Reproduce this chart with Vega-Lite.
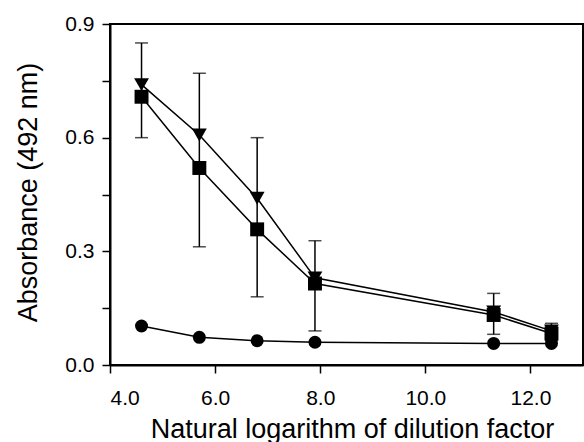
{
  "$schema": "https://vega.github.io/schema/vega-lite/v6.json",
  "width": 473,
  "height": 341,
  "autosize": {"type": "none"},
  "padding": {"left": 110, "top": 24, "right": 1, "bottom": 77},
  "background": "white",
  "config": {
    "view": {"stroke": "black", "strokeWidth": 2},
    "font": "Liberation Sans",
    "axis": {
      "domainColor": "black", "domainWidth": 2, "tickColor": "black", "tickWidth": 1.5, "tickSize": 8,
      "labelFont": "Liberation Sans", "labelFontSize": 21, "labelColor": "black", "labelPadding": 8,
      "titleFont": "Liberation Sans", "titleFontSize": 27, "titleFontWeight": "normal", "titleColor": "black",
      "grid": false
    }
  },
  "datasets": {
    "points": [
      {"lnd": 4.6, "series": "T", "abs": 0.74},
      {"lnd": 5.7, "series": "T", "abs": 0.607},
      {"lnd": 6.8, "series": "T", "abs": 0.44},
      {"lnd": 7.9, "series": "T", "abs": 0.23},
      {"lnd": 11.3, "series": "T", "abs": 0.14},
      {"lnd": 12.4, "series": "T", "abs": 0.09},
      {"lnd": 4.6, "series": "S", "abs": 0.708},
      {"lnd": 5.7, "series": "S", "abs": 0.52},
      {"lnd": 6.8, "series": "S", "abs": 0.358},
      {"lnd": 7.9, "series": "S", "abs": 0.215},
      {"lnd": 11.3, "series": "S", "abs": 0.132},
      {"lnd": 12.4, "series": "S", "abs": 0.083},
      {"lnd": 4.6, "series": "C", "abs": 0.103},
      {"lnd": 5.7, "series": "C", "abs": 0.073},
      {"lnd": 6.8, "series": "C", "abs": 0.064},
      {"lnd": 7.9, "series": "C", "abs": 0.06},
      {"lnd": 11.3, "series": "C", "abs": 0.057},
      {"lnd": 12.4, "series": "C", "abs": 0.057}
    ],
    "errors": [
      {"lnd": 4.6, "lo": 0.6, "hi": 0.85},
      {"lnd": 5.7, "lo": 0.312, "hi": 0.77},
      {"lnd": 6.8, "lo": 0.18, "hi": 0.6},
      {"lnd": 7.9, "lo": 0.09, "hi": 0.328},
      {"lnd": 11.3, "lo": 0.081, "hi": 0.189},
      {"lnd": 12.4, "lo": 0.065, "hi": 0.11}
    ]
  },
  "layer": [
    {
      "data": {"name": "errors"},
      "mark": {"type": "rule", "color": "black", "strokeWidth": 1.5},
      "encoding": {
        "x": {"field": "lnd", "type": "quantitative"},
        "y": {"field": "lo", "type": "quantitative"},
        "y2": {"field": "hi"}
      }
    },
    {
      "data": {"name": "errors"},
      "mark": {"type": "tick", "orient": "horizontal", "color": "black", "size": 13, "thickness": 1.5},
      "encoding": {
        "x": {"field": "lnd", "type": "quantitative"},
        "y": {"field": "lo", "type": "quantitative"}
      }
    },
    {
      "data": {"name": "errors"},
      "mark": {"type": "tick", "orient": "horizontal", "color": "black", "size": 13, "thickness": 1.5},
      "encoding": {
        "x": {"field": "lnd", "type": "quantitative"},
        "y": {"field": "hi", "type": "quantitative"}
      }
    },
    {
      "data": {"name": "points"},
      "mark": {"type": "line", "color": "black", "strokeWidth": 1.5},
      "encoding": {
        "x": {"field": "lnd", "type": "quantitative",
          "scale": {"domain": [4, 13], "nice": false, "zero": false},
          "axis": {"values": [4, 6, 8, 10, 12], "format": ".1f", "labelPadding": 14, "title": "Natural logarithm of dilution factor",
            "titleX": 242, "titleY": 72, "titleBaseline": "alphabetic"}
        },
        "y": {"field": "abs", "type": "quantitative",
          "scale": {"domain": [0, 0.9], "nice": false},
          "axis": {"values": [0, 0.15, 0.3, 0.45, 0.6, 0.75, 0.9],
            "labelExpr": "indexof([0, 0.3, 0.6, 0.9], datum.value) >= 0 ? format(datum.value, '.1f') : ''",
            "title": "Absorbance (492 nm)", "titleX": -68, "titleY": 168, "titleBaseline": "bottom"}
        },
        "detail": {"field": "series", "type": "nominal"}
      }
    },
    {
      "data": {"name": "points"},
      "mark": {"type": "point", "filled": true, "opacity": 1, "color": "black"},
      "encoding": {
        "x": {"field": "lnd", "type": "quantitative"},
        "y": {"field": "abs", "type": "quantitative"},
        "shape": {"field": "series", "type": "nominal",
          "scale": {"domain": ["T", "S", "C"], "range": ["triangle-down", "square", "circle"]}, "legend": null},
        "size": {"field": "series", "type": "nominal",
          "scale": {"domain": ["T", "S", "C"], "range": [220, 169, 160]}, "legend": null}
      }
    }
  ]
}
